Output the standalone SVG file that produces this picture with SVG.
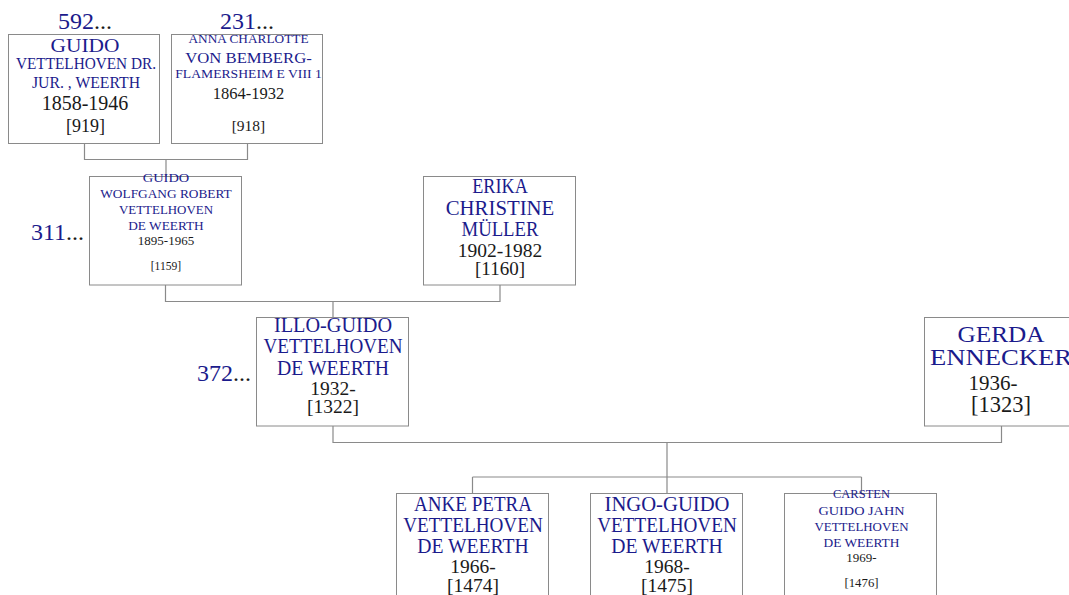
<svg xmlns="http://www.w3.org/2000/svg" width="1069" height="595" viewBox="0 0 1069 595">
<style>
text{font-family:"Liberation Serif","Times New Roman",serif;text-anchor:middle}
.n{fill:#1b1b8c}
.d{fill:#1a1a1a}
.box{fill:#fff;stroke:#8a8a8a;stroke-width:1}
.c{fill:none;stroke:#8a8a8a;stroke-width:1.2}
.lab{font-size:24px;text-anchor:end}
</style>
<rect width="1069" height="595" fill="#fff"/>
<g id="connectors">
<path class="c" d="M84.5 144 V159.5 H247.5 V144 M166 159.5 V176"/>
<path class="c" d="M165.5 285 V301.5 H500 V285 M333 301.5 V317"/>
<path class="c" d="M333 426 V442.5 H1001.5 V426 M667 442.5 V477"/>
<path class="c" d="M472.5 477 H861.5 M472.5 477 V493 M667 477 V493 M861.5 477 V493"/>
</g>
<g id="label-592"><text class="lab" x="112" y="28.5"><tspan class="n">592</tspan><tspan class="d">...</tspan></text></g>
<g id="label-231"><text class="lab" x="274" y="28.5"><tspan class="n">231</tspan><tspan class="d">...</tspan></text></g>
<g id="label-311"><text class="lab" x="84" y="239.5"><tspan class="n">311</tspan><tspan class="d">...</tspan></text></g>
<g id="label-372"><text class="lab" x="251" y="380.5"><tspan class="n">372</tspan><tspan class="d">...</tspan></text></g>

<g id="p919">
<rect class="box" x="8.5" y="34.5" width="151" height="109"/>
<text class="n" x="85" y="51.7" font-size="19" textLength="69" lengthAdjust="spacingAndGlyphs">GUIDO</text>
<text class="n" x="86" y="69" font-size="16" textLength="140" lengthAdjust="spacingAndGlyphs">VETTELHOVEN DR.</text>
<text class="n" x="86" y="87.7" font-size="16" textLength="108" lengthAdjust="spacingAndGlyphs">JUR. , WEERTH</text>
<text class="d" x="85" y="110" font-size="20">1858-1946</text>
<text class="d" x="85.5" y="132" font-size="18">[919]</text>
</g>
<g id="p918">
<rect class="box" x="171.5" y="34.5" width="151" height="109"/>
<text class="n" x="248.5" y="42.7" font-size="12.5" textLength="120" lengthAdjust="spacingAndGlyphs">ANNA CHARLOTTE</text>
<text class="n" x="248.5" y="62.7" font-size="15.5" textLength="126.5" lengthAdjust="spacingAndGlyphs">VON BEMBERG-</text>
<text class="n" x="248.5" y="77.7" font-size="13.5" textLength="146.5" lengthAdjust="spacingAndGlyphs">FLAMERSHEIM E VIII 1</text>
<text class="d" x="248.5" y="99" font-size="16.5">1864-1932</text>
<text class="d" x="248.5" y="131" font-size="15.5">[918]</text>
</g>
<g id="p1159">
<rect class="box" x="89.5" y="176.5" width="152" height="108.5"/>
<text class="n" x="166" y="181.7" font-size="12.5" textLength="46.5" lengthAdjust="spacingAndGlyphs">GUIDO</text>
<text class="n" x="166" y="198.3" font-size="13.5" textLength="131.5" lengthAdjust="spacingAndGlyphs">WOLFGANG ROBERT</text>
<text class="n" x="166" y="214.3" font-size="13.5" textLength="94" lengthAdjust="spacingAndGlyphs">VETTELHOVEN</text>
<text class="n" x="166" y="230" font-size="13.5" textLength="75.5" lengthAdjust="spacingAndGlyphs">DE WEERTH</text>
<text class="d" x="166" y="245" font-size="13">1895-1965</text>
<text class="d" x="166" y="270" font-size="11.6">[1159]</text>
</g>
<g id="p1160">
<rect class="box" x="423.5" y="176.5" width="152" height="108.5"/>
<text class="n" x="500" y="193.3" font-size="20" textLength="55.5" lengthAdjust="spacingAndGlyphs">ERIKA</text>
<text class="n" x="500" y="215" font-size="20" textLength="108.5" lengthAdjust="spacingAndGlyphs">CHRISTINE</text>
<text class="n" x="500" y="236" font-size="20" textLength="77" lengthAdjust="spacingAndGlyphs">MÜLLER</text>
<text class="d" x="500" y="256.7" font-size="19.5">1902-1982</text>
<text class="d" x="500" y="275" font-size="19">[1160]</text>
</g>
<g id="p1322">
<rect class="box" x="256.5" y="317.5" width="152" height="108.5"/>
<text class="n" x="333" y="331.7" font-size="20" textLength="118" lengthAdjust="spacingAndGlyphs">ILLO-GUIDO</text>
<text class="n" x="333" y="352.7" font-size="20" textLength="139" lengthAdjust="spacingAndGlyphs">VETTELHOVEN</text>
<text class="n" x="333" y="374.5" font-size="20" textLength="112" lengthAdjust="spacingAndGlyphs">DE WEERTH</text>
<text class="d" x="333" y="395" font-size="19.5">1932-</text>
<text class="d" x="333" y="413.3" font-size="19.5">[1322]</text>
</g>
<g id="p1323">
<rect class="box" x="924.5" y="317.5" width="152" height="108.5"/>
<text class="n" x="1001" y="341.7" font-size="23" textLength="87" lengthAdjust="spacingAndGlyphs">GERDA</text>
<text class="n" x="1001" y="365" font-size="23" textLength="142" lengthAdjust="spacingAndGlyphs">ENNECKER</text>
<text class="d" x="993" y="390" font-size="21">1936-</text>
<text class="d" x="1001" y="412.3" font-size="22.5">[1323]</text>
</g>
<g id="p1474">
<rect class="box" x="396.5" y="493.5" width="152" height="110"/>
<text class="n" x="473" y="510.7" font-size="20" textLength="118" lengthAdjust="spacingAndGlyphs">ANKE PETRA</text>
<text class="n" x="473" y="531.7" font-size="20" textLength="139.5" lengthAdjust="spacingAndGlyphs">VETTELHOVEN</text>
<text class="n" x="473" y="553.3" font-size="20" textLength="111.5" lengthAdjust="spacingAndGlyphs">DE WEERTH</text>
<text class="d" x="473" y="573.3" font-size="19.5">1966-</text>
<text class="d" x="473" y="591.7" font-size="19.5">[1474]</text>
</g>
<g id="p1475">
<rect class="box" x="590.5" y="493.5" width="152" height="110"/>
<text class="n" x="667" y="510.7" font-size="20" textLength="125" lengthAdjust="spacingAndGlyphs">INGO-GUIDO</text>
<text class="n" x="667" y="531.7" font-size="20" textLength="139.5" lengthAdjust="spacingAndGlyphs">VETTELHOVEN</text>
<text class="n" x="667" y="553.3" font-size="20" textLength="111.5" lengthAdjust="spacingAndGlyphs">DE WEERTH</text>
<text class="d" x="667" y="573.3" font-size="19.5">1968-</text>
<text class="d" x="667" y="591.7" font-size="19.5">[1475]</text>
</g>
<g id="p1476">
<rect class="box" x="784.5" y="493.5" width="152" height="110"/>
<text class="n" x="861.5" y="498.3" font-size="12" textLength="57" lengthAdjust="spacingAndGlyphs">CARSTEN</text>
<text class="n" x="861.5" y="515" font-size="13" textLength="86" lengthAdjust="spacingAndGlyphs">GUIDO JAHN</text>
<text class="n" x="861.5" y="530.7" font-size="13.5" textLength="94" lengthAdjust="spacingAndGlyphs">VETTELHOVEN</text>
<text class="n" x="861.5" y="546.7" font-size="13.5" textLength="76" lengthAdjust="spacingAndGlyphs">DE WEERTH</text>
<text class="d" x="861.5" y="561.7" font-size="13">1969-</text>
<text class="d" x="861.5" y="586.7" font-size="12.8">[1476]</text>
</g>
</svg>
